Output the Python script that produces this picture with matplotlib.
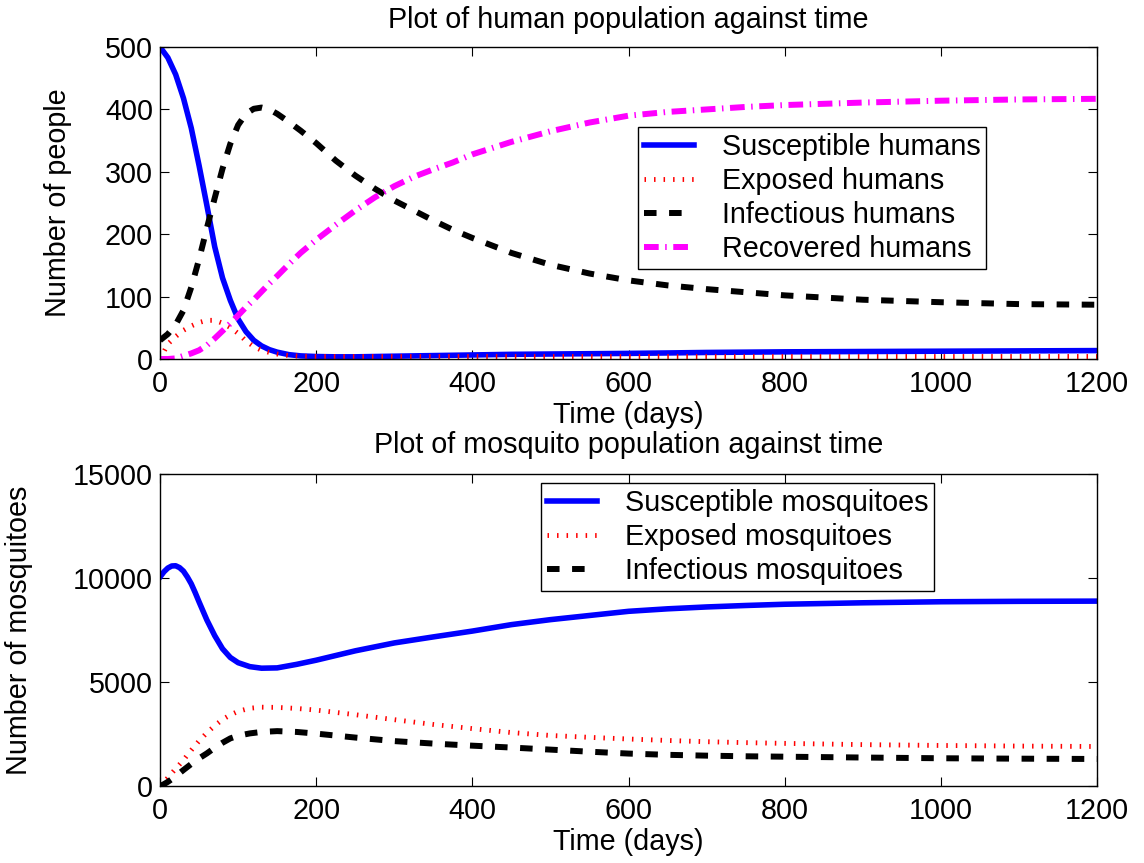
import matplotlib
matplotlib.use("Agg")
import matplotlib.pyplot as plt

plt.rcParams['font.family'] = ['Liberation Sans', 'DejaVu Sans']

# human compartments
t_h = [0, 10, 20, 30, 40, 50, 60, 70, 80, 90, 100, 110, 120, 130, 140, 150, 165, 180,
       200, 225, 250, 275, 300, 325, 350, 375, 400, 450, 500, 550, 600, 650, 700, 750, 800,
       900, 1000, 1100, 1200]
s_h = [500, 483, 456, 418, 370, 310, 246, 180, 130, 94, 64, 44, 30, 21, 15, 11, 7, 5,
       4, 3.5, 3.5, 4, 4.5, 5, 5.5, 6, 6.5, 7.5, 8, 8.5, 9, 9.7, 10.5, 11, 11.5, 12, 12.5,
       13, 13.5]
e_h = [0, 24, 36, 46, 53, 58.5, 62, 62, 57.5, 50.5, 41, 29, 20, 14, 10.5, 8, 5.5, 4.5,
       4, 4, 4, 4, 4, 4, 4, 4, 4, 4, 4, 4, 4, 4, 4, 4, 4, 4, 4, 4, 4]
i_h = [30, 40, 55, 78, 115, 160, 210, 258, 305, 345, 375, 393, 401, 403, 400, 393, 380, 366,
       346, 318, 294, 273, 254, 238, 222, 207, 194, 170, 151, 137, 126, 118, 112, 107, 102,
       95, 91, 88, 87]
r_h = [0, 0, 1, 5, 9, 14, 22, 33, 45, 57, 70, 83, 95, 108, 121, 133, 152, 170,
       191, 215, 238, 259, 277, 292, 304, 315, 328, 348, 365, 379, 390, 396, 400, 404, 407,
       411, 414, 416, 417]

# mosquito compartments
t_m = [0, 5, 10, 15, 20, 25, 30, 35, 40, 45, 50, 60, 70, 80, 90, 100, 115, 130, 150, 175,
       200, 250, 300, 350, 400, 450, 500, 550, 600, 650, 700, 750, 800, 900, 1000, 1100, 1200]
s_m = [10050, 10300, 10480, 10580, 10590, 10500, 10330, 10050, 9720, 9300, 8850, 7980, 7230,
       6600, 6180, 5930, 5740, 5665, 5680, 5850, 6050, 6500, 6880, 7170, 7450, 7760, 8000,
       8200, 8400, 8520, 8610, 8680, 8740, 8810, 8860, 8880, 8890]
e_m = [0, 200, 400, 620, 830, 1040, 1250, 1490, 1720, 1950, 2170, 2560, 2900, 3200, 3420,
       3590, 3740, 3790, 3780, 3730, 3650, 3430, 3190, 2960, 2760, 2570, 2430, 2340, 2260,
       2190, 2130, 2085, 2050, 1990, 1950, 1920, 1900]
i_m = [0, 90, 200, 330, 470, 620, 770, 915, 1060, 1200, 1330, 1570, 1840, 2080, 2290, 2420,
       2530, 2600, 2640, 2600, 2520, 2330, 2160, 2040, 1940, 1850, 1750, 1650, 1560, 1500,
       1460, 1430, 1410, 1370, 1335, 1315, 1300]

fs = 20.7
dot = (0, (0.31, 1.65))
dash = (0, (2.1, 2.1))
dashdot = (0, (2.46, 1.09, 0.25, 1.1))

fig = plt.figure(figsize=(11.44, 8.63), dpi=100)
ax1 = fig.add_axes([0.1399, 0.5840, 0.8191, 0.3615])
ax2 = fig.add_axes([0.1399, 0.0892, 0.8191, 0.3615])

ax1.plot(t_h, s_h, color='#0000ff', lw=4, label='Susceptible humans')
ax1.plot(t_h, e_h, color='#ff0000', lw=3.5, linestyle=dot, label='Exposed humans')
ax1.plot(t_h, i_h, color='black', lw=4.3, linestyle=dash, label='Infectious humans')
ax1.plot(t_h, r_h, color='#ff00ff', lw=4.3, linestyle=dashdot, label='Recovered humans')
ax1.set_ylim(0, 500)
ax1.set_yticks([0, 100, 200, 300, 400, 500])
ax1.set_title('Plot of human population against time', fontsize=fs, pad=14)
ax1.set_ylabel('Number of people', fontsize=fs)
ax1.yaxis.set_label_coords(-0.0939, 0.5)

ax2.plot(t_m, s_m, color='#0000ff', lw=4, label='Susceptible mosquitoes')
ax2.plot(t_m, e_m, color='#ff0000', lw=3.5, linestyle=dot, label='Exposed mosquitoes')
ax2.plot(t_m, i_m, color='black', lw=4.3, linestyle=dash, label='Infectious mosquitoes')
ax2.set_ylim(0, 15000)
ax2.set_yticks([0, 5000, 10000, 15000])
ax2.set_title('Plot of mosquito population against time', fontsize=fs, pad=15)
ax2.set_ylabel('Number of mosquitoes', fontsize=fs)
ax2.yaxis.set_label_coords(-0.1355, 0.5)

legend_pos = [(638 / 1144, 1 - 127 / 863), (541 / 1144, 1 - 483 / 863)]
for ax, pos in zip([ax1, ax2], legend_pos):
    ax.set_xlim(0, 1200)
    ax.set_xticks(range(0, 1201, 200))
    ax.set_xlabel('Time (days)', fontsize=fs, labelpad=2)
    ax.tick_params(direction='in', top=True, right=True, length=6.5, width=0.8,
                   labelsize=fs)
    ax.tick_params(axis='x', pad=8)
    ax.tick_params(axis='y', pad=5)
    for sp in ax.spines.values():
        sp.set_linewidth(1.0)
    leg = ax.legend(loc='upper left', bbox_to_anchor=pos, bbox_transform=fig.transFigure,
                    fancybox=False, edgecolor='black', framealpha=1, borderaxespad=0,
                    handlelength=1.76, handletextpad=0.95, labelspacing=0.21,
                    borderpad=0.2, fontsize=fs)
    leg.get_frame().set_linewidth(1.0)

fig.savefig('out.png', dpi=100)
